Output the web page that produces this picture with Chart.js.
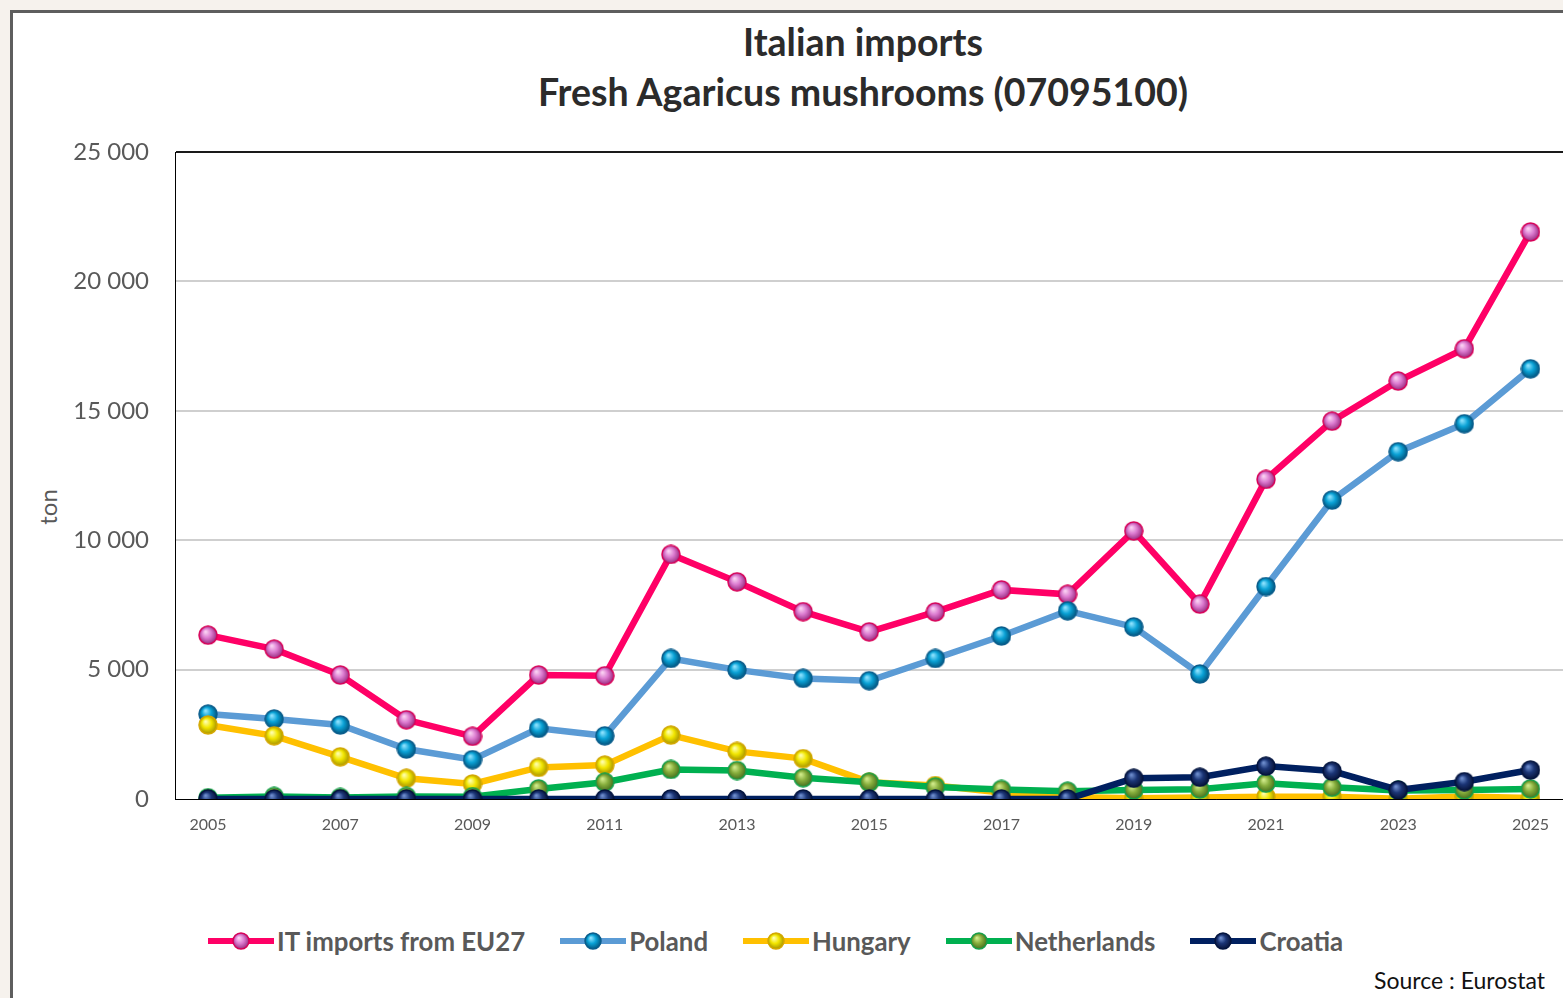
<!DOCTYPE html>
<html>
<head>
<meta charset="utf-8">
<title>Italian imports - Fresh Agaricus mushrooms</title>
<script src="https://cdn.jsdelivr.net/npm/chart.js@4.4.1/dist/chart.umd.min.js"></script>
<style>
    body {
        margin: 0;
        width: 1563px;
        height: 998px;
        overflow: hidden;
        position: relative;
        background: #f6f2ed;
        font-family: Lato, "Open Sans", sans-serif;
    }
    #frame {
        position: absolute;
        left: 10px;
        top: 10px;
        width: 1620px;
        height: 1020px;
        background: #fff;
        border-left: 3px solid #5e5e5e;
        border-top: 3px solid #5e5e5e;
    }
    #title {
        position: absolute;
        left: 0;
        top: 17px;
        width: 1726px;
        text-align: center;
        font-weight: 700;
        font-size: 37.5px;
        line-height: 50px;
        color: #2b2b2b;
    }
    #ytitle {
        position: absolute;
        left: 47px;
        top: 507px;
        transform: translate(-50%, -50%) rotate(-90deg);
        font-size: 24px;
        color: #595959;
    }
    #wrap {
        position: absolute;
        left: 0;
        top: 0;
        width: 1580px;
        height: 850px;
    }
    #legend {
        position: absolute;
        left: 208px;
        top: 926px;
        display: flex;
        gap: 35px;
        align-items: center;
    }
    .item {
        display: flex;
        align-items: center;
        gap: 3px;
        font-weight: 700;
        font-size: 25.8px;
        color: #595959;
    }
    #source {
        position: absolute;
        right: 18px;
        top: 966px;
        font-size: 23px;
        color: #111;
    }
</style>
</head>
<body>
<div id="frame"></div>
<div id="title">Italian imports<br>Fresh Agaricus mushrooms (07095100)</div>
<div id="ytitle">ton</div>
<div id="wrap"><canvas id="myChart"></canvas></div>
<div id="legend"></div>
<div id="source">Source : Eurostat</div>

<script>
// data (ton)
const years = ["2005", "2006", "2007", "2008", "2009", "2010", "2011", "2012", "2013", "2014",
    "2015", "2016", "2017", "2018", "2019", "2020", "2021", "2022", "2023", "2024", "2025"];

const itEu27 = [6330, 5790, 4790, 3060, 2420, 4790, 4760, 9450, 8390, 7240,
    6460, 7230, 8080, 7910, 10360, 7530, 12350, 14600, 16150, 17400, 21910];
const poland = [3280, 3090, 2860, 1930, 1520, 2730, 2440, 5430, 4990, 4660,
    4570, 5430, 6300, 7270, 6650, 4830, 8210, 11550, 13420, 14500, 16620];
const hungary = [2860, 2440, 1630, 800, 580, 1220, 1310, 2470, 1840, 1560,
    650, 520, 250, 80, 30, 60, 90, 90, 10, 100, 40];
const netherlands = [50, 100, 60, 100, 90, 390, 650, 1140, 1100, 820,
    650, 460, 370, 300, 350, 380, 610, 450, 330, 350, 390];
const croatia = [0, 0, 0, 0, 0, 0, 0, 0, 0, 0,
    0, 0, 0, 0, 800, 840, 1270, 1080, 350, 670, 1120];

const yTicks = [0, 5000, 10000, 15000, 20000, 25000];

const seriesNames = ["IT imports from EU27", "Poland", "Hungary", "Netherlands", "Croatia"];
const seriesData = [itEu27, poland, hungary, netherlands, croatia];
const lineColors = ["#ff0066", "#5b9bd5", "#ffc000", "#00b050", "#002060"];
// light, mid, dark, rim of the shiny markers
const ballColors = [
    ["#fbd3f4", "#dc7bd0", "#8e1f72", "#d80058"],
    ["#8fe3ff", "#0aa2d6", "#004a72", "#0a5d8c"],
    ["#ffffb0", "#f2e600", "#9a8600", "#d4a800"],
    ["#d2ec8c", "#86ad3c", "#3a6418", "#17a04a"],
    ["#6f8fcf", "#1b3576", "#050f30", "#03143f"]
];

function ball(c, size) {
    let cv = document.createElement("canvas");
    cv.width = size;
    cv.height = size;
    let ctx = cv.getContext("2d");
    let r = size / 2;
    let g = ctx.createRadialGradient(r * 0.75, r * 0.65, r * 0.05, r, r, r);
    g.addColorStop(0, c[0]);
    g.addColorStop(0.45, c[1]);
    g.addColorStop(1, c[2]);
    ctx.beginPath();
    ctx.arc(r, r, r - 1, 0, Math.PI * 2);
    ctx.fillStyle = g;
    ctx.fill();
    ctx.lineWidth = 1.5;
    ctx.strokeStyle = c[3];
    ctx.stroke();
    return cv;
}

function legendMark(i) {
    let cv = document.createElement("canvas");
    cv.width = 66;
    cv.height = 20;
    let ctx = cv.getContext("2d");
    ctx.fillStyle = lineColors[i];
    ctx.fillRect(0, 7, 66, 6);
    ctx.drawImage(ball(ballColors[i], 18), 24, 1);
    return cv;
}

let legend = document.getElementById("legend");
seriesNames.forEach((name, i) => {
    let item = document.createElement("div");
    item.className = "item";
    item.appendChild(legendMark(i));
    let txt = document.createElement("span");
    txt.textContent = name;
    item.appendChild(txt);
    legend.appendChild(item);
});

let datasets = seriesNames.map((name, i) => ({
    label: name,
    data: seriesData[i],
    borderColor: lineColors[i],
    backgroundColor: lineColors[i],
    borderWidth: 6.5,
    pointStyle: ball(ballColors[i], 20),
    pointRadius: 10,
    pointHoverRadius: 10,
    tension: 0,
    order: seriesNames.length - i
}));

new Chart("myChart", {
    type: "line",
    data: {
        labels: years,
        datasets: datasets
    },
    options: {
        responsive: true,
        maintainAspectRatio: false,
        animation: false,
        layout: {
            padding: { top: 152, left: 0, right: 15, bottom: 0 }
        },
        plugins: {
            legend: { display: false },
            title: { display: false },
            tooltip: { enabled: false }
        },
        scales: {
            x: {
                offset: true,
                grid: { display: false, drawTicks: false },
                border: { display: true, color: "#000", width: 1 },
                afterFit: (scale) => { scale.height = 51; },
                ticks: {
                    autoSkip: false,
                    maxRotation: 0,
                    padding: 16,
                    color: "#595959",
                    font: { family: "Lato", size: 16 },
                    callback: function (val, idx) {
                        return idx % 2 === 0 ? this.getLabelForValue(val) : "";
                    }
                }
            },
            y: {
                min: 0,
                max: 25000,
                afterFit: (scale) => { scale.width = 175; },
                afterBuildTicks: (scale) => {
                    scale.ticks = yTicks.map(v => ({ value: v }));
                },
                border: { display: true, color: "#000", width: 1 },
                grid: {
                    drawTicks: false,
                    color: (ctx) => (ctx.tick.value === 0 || ctx.tick.value === 25000) ? "#1a1a1a" : "#cfcfcf",
                    lineWidth: (ctx) => (ctx.tick.value === 0 ? 1 : 2)
                },
                ticks: {
                    padding: 26,
                    color: "#595959",
                    font: { family: "Lato", size: 24 },
                    callback: (v) => String(v).replace(/\B(?=(\d{3})+(?!\d))/g, " ")
                }
            }
        }
    }
});
</script>
</body>
</html>
